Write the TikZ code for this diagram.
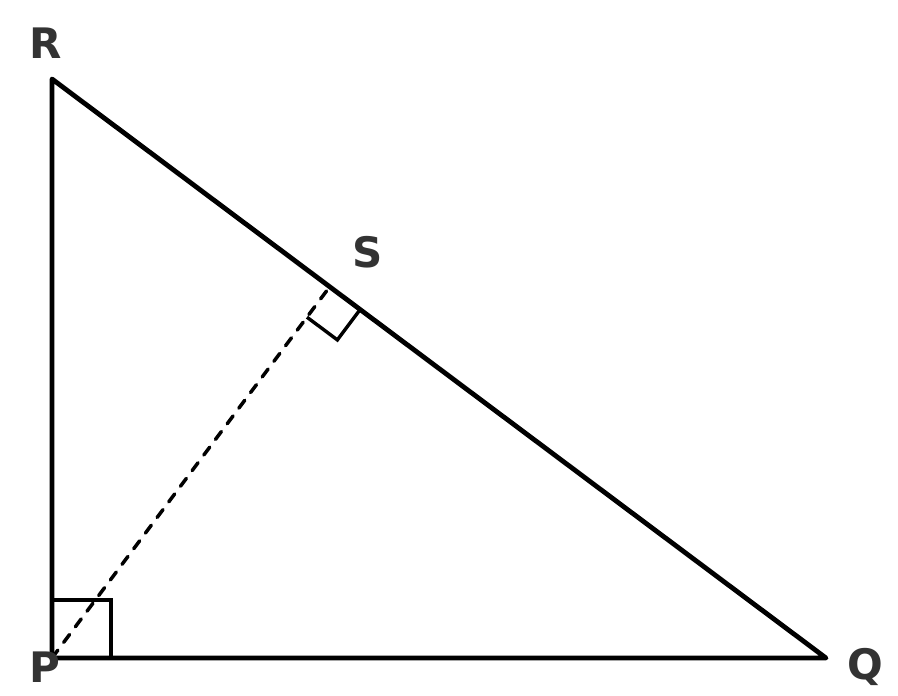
\documentclass[tikz,border=0pt]{standalone}
\usepackage{fontspec}
\setmainfont{DejaVu Sans}
\usetikzlibrary{calc}
\definecolor{lab}{HTML}{333333}
\tikzset{
  side/.style={line width=4.8pt, line join=round, line cap=round},
  mark90/.style={line width=3.4pt, line join=miter},
  alt/.style={line width=3.5pt, line cap=round, dash pattern=on 9.8pt off 9.7pt},
  vlabel/.style={text=lab, font=\fontsize{42}{42}\selectfont\bfseries, inner sep=0pt}
}
\begin{document}
\begin{tikzpicture}[x=1pt,y=-1pt]
\useasboundingbox (0,0) rectangle (898,696);
\coordinate (P) at (52,658);
\coordinate (R) at (52,79);
\coordinate (Q) at (826,658);
\coordinate (S) at ($(R)!(P)!(Q)$);
% right angle at P
\draw[mark90] (52,600) -- (111,600) -- (111,658);
% right angle at S
\coordinate (s1) at ($(S)!38pt!(P)$);
\coordinate (s2) at ($(S)!38pt!(Q)$);
\draw[mark90] (s1) -- ($(s1)+(s2)-(S)$) -- (s2);
% altitude
\draw[alt] (P) -- (S);
% triangle
\draw[side] (R) -- (P) -- (Q) -- cycle;
% labels
\node[vlabel] (lR) at (46,43) {R};
\node[vlabel] (lS) at (368,252) {S};
\node[vlabel] (lP) at (45,667) {P};
\node[vlabel] (lQ) at (865,667) {Q};
\end{tikzpicture}
\end{document}
